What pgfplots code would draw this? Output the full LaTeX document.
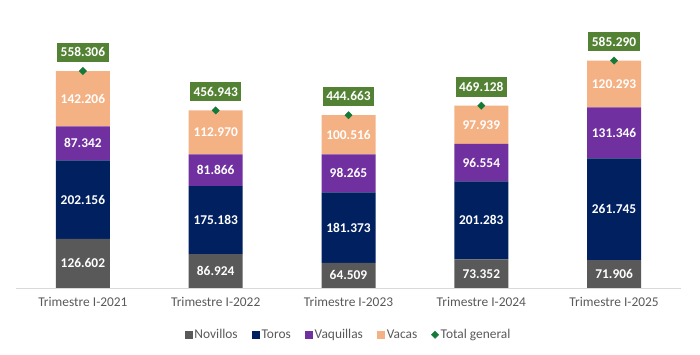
\documentclass[border=0pt]{standalone}
\usepackage{fontspec}
\setmainfont{Carlito}
\usepackage{pgfplots}
\pgfplotsset{compat=1.18}
\definecolor{novillos}{HTML}{595959}
\definecolor{toros}{HTML}{002060}
\definecolor{vaquillas}{HTML}{7030A0}
\definecolor{vacas}{HTML}{F4B183}
\definecolor{totalg}{HTML}{137A38}
\definecolor{boxg}{HTML}{548235}
\definecolor{txtgray}{HTML}{595959}
\definecolor{axgray}{HTML}{D9D9D9}
\pgfplotsset{
  base/.style={
    scale only axis, width=664pt, height=272pt,
    xmin=-0.5, xmax=4.5, ymin=0, ymax=700000,
    ytick=\empty, axis y line=none,
  }
}
\begin{document}
\begin{tikzpicture}
\useasboundingbox (0,0) rectangle (700pt,355pt);
% bars
\begin{axis}[base, at={(16.5pt,67pt)}, anchor=south west,
  ybar stacked, bar width=54pt,
  axis x line*=bottom, x axis line style={draw=axgray, line width=0.8pt, -},
  xtick={0,1,2,3,4}, major tick length=0pt,
  xticklabels={Trimestre I-2021,Trimestre I-2022,Trimestre I-2023,Trimestre I-2024,Trimestre I-2025},
  xticklabel style={font=\fontsize{13.4}{15}\selectfont, text=txtgray, yshift=-6pt},
]
\addplot[fill=novillos, draw=none] coordinates {(0,126602) (1,86924) (2,64509) (3,73352) (4,71906)};
\addplot[fill=toros, draw=none] coordinates {(0,202156) (1,175183) (2,181373) (3,201283) (4,261745)};
\addplot[fill=vaquillas, draw=none] coordinates {(0,87342) (1,81866) (2,98265) (3,96554) (4,131346)};
\addplot[fill=vacas, draw=none] coordinates {(0,142206) (1,112970) (2,100516) (3,97939) (4,120293)};
\end{axis}
% labels, totals, legend
\begin{axis}[base, at={(16.5pt,67pt)}, anchor=south west,
  axis x line=none, xtick=\empty,
  legend style={at={(0.5,-0.172)}, anchor=center, draw=none, fill=none,
    legend columns=-1, font=\fontsize{13.4}{15}\selectfont, text=txtgray,
    /tikz/every even column/.append style={column sep=12pt},
    inner sep=0pt},
  legend cell align=left,
]
\addlegendimage{legend image code/.code={\fill[novillos] (0pt,-3.7pt) rectangle (7.5pt,3.7pt);}}
\addlegendentry{Novillos}
\addlegendimage{legend image code/.code={\fill[toros] (0pt,-3.7pt) rectangle (7.5pt,3.7pt);}}
\addlegendentry{Toros}
\addlegendimage{legend image code/.code={\fill[vaquillas] (0pt,-3.7pt) rectangle (7.5pt,3.7pt);}}
\addlegendentry{Vaquillas}
\addlegendimage{legend image code/.code={\fill[vacas] (0pt,-3.7pt) rectangle (7.5pt,3.7pt);}}
\addlegendentry{Vacas}
\addplot[draw=none, mark=none, forget plot, nodes near coords, point meta=explicit symbolic,
  every node near coord/.append style={anchor=center, text=white, font=\bfseries\fontsize{13.4}{15}\selectfont}]
  table[meta=l] {
x y l
0 63301 126.602
1 43462 86.924
2 32254.5 64.509
3 36676 73.352
4 35953 71.906
0 227680 202.156
1 174515.5 175.183
2 155195.5 181.373
3 173993.5 201.283
4 202778.5 261.745
0 372429 87.342
1 303040 81.866
2 295014.5 98.265
3 322912 96.554
4 399324 131.346
0 487203 142.206
1 400458 112.970
2 394405 100.516
3 420158.5 97.939
4 525143.5 120.293
};
\addplot[only marks, mark=square*, mark size=2.6pt, mark options={rotate=45}, color=totalg,
  nodes near coords, point meta=explicit symbolic,
  every node near coord/.append style={anchor=south, yshift=9pt, fill=boxg, text=white,
    font=\bfseries\fontsize{13.4}{15}\selectfont, inner xsep=3.5pt, inner ysep=5pt}]
  table[meta=l] {
x y l
0 558306 558.306
1 456943 456.943
2 444663 444.663
3 469128 469.128
4 585290 585.290
};
\addlegendentry{Total general}
\end{axis}
\end{tikzpicture}
\end{document}
